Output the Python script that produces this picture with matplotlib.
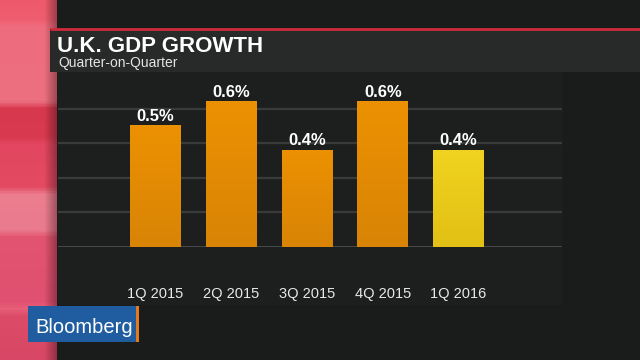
import matplotlib
matplotlib.use("Agg")
import matplotlib.pyplot as plt
import numpy as np
from matplotlib.patches import Rectangle
from matplotlib.colors import LinearSegmentedColormap

plt.rcParams['font.family'] = ['Liberation Sans', 'DejaVu Sans']

# ---- data ----
categories = ["1Q 2015", "2Q 2015", "3Q 2015", "4Q 2015", "1Q 2016"]
growth = [0.5, 0.6, 0.4, 0.6, 0.4]
value_labels = ["0.5%", "0.6%", "0.4%", "0.6%", "0.4%"]
title = "U.K. GDP GROWTH"
subtitle = "Quarter-on-Quarter"
brand = "Bloomberg"

# ---- styles ----
bar_top = ["#ec9102", "#ec9102", "#ec9102", "#ec9102", "#f0d320"]
bar_bot = ["#d98406", "#d98406", "#d98406", "#d98406", "#e2c015"]
grid_step = 0.1417

W, H = 640, 360
fig = plt.figure(figsize=(6.4, 3.6), dpi=100)
fig.patch.set_facecolor("#1a1b1b")

# background decoration axes in pixel coordinates
bg = fig.add_axes([0, 0, 1, 1])
bg.axis('off')
bg.add_patch(Rectangle((58, 72), 504, 233, color="#1d1e1e", zorder=0, lw=0))
pink_stops = [(0.0, "#ee5a6c"), (0.05, "#ee5e70"), (0.07, "#ee6c7e"), (0.28, "#ec7080"),
              (0.30, "#d8384e"), (0.38, "#d83a50"), (0.40, "#e24660"), (0.52, "#e44a62"),
              (0.54, "#ec7e90"), (0.64, "#ea7a8e"), (0.66, "#e25470"), (0.84, "#e05070"),
              (0.86, "#e8607a"), (0.88, "#dc4c68"), (1.0, "#d84866")]
pink = LinearSegmentedColormap.from_list("p", pink_stops)
bg.imshow(np.linspace(0, 1, 360).reshape(-1, 1), cmap=pink, extent=(0, 57, H, 0),
          aspect='auto', zorder=1)
shade = LinearSegmentedColormap.from_list("s", [(0, (0, 0, 0, 0)), (1, (0.1, 0, 0.02, 0.35))])
bg.imshow(np.linspace(0, 1, 20).reshape(1, -1), cmap=shade, extent=(44, 57, H, 0),
          aspect='auto', zorder=1.5)
bg.add_patch(Rectangle((50, 29), W - 50, 43, color="#282a2a", zorder=2, lw=0))
bg.plot([50, W], [29, 29], color="#cf2a3c", lw=2, zorder=3, solid_capstyle='butt')
bg.text(57, 52, title, fontsize=16, fontweight='bold', color='white', va='baseline', zorder=4)
bg.text(58, 66.5, subtitle, fontsize=10, color='#e4e4e4', va='baseline', zorder=4)
# logo
bg.add_patch(Rectangle((28, 306), 109, 36, color="#1f5ca0", zorder=4, lw=0))
bg.add_patch(Rectangle((136, 306), 3, 36, color="#e07a1e", zorder=5, lw=0))
bg.text(35, 333, brand, fontsize=14.5, color='white', va='baseline', zorder=6)
bg.set_xlim(0, W)
bg.set_ylim(H, 0)

# chart axes
base_px, top_px = 246.7, 72
ax = fig.add_axes([58 / W, (H - base_px) / H, 504 / W, (base_px - top_px) / H])
ax.set_facecolor('none')
x = np.arange(len(categories))
bars = ax.bar(x, growth, width=0.673, color=bar_top, zorder=3, lw=0)
grad = np.linspace(0, 1, 64).reshape(-1, 1)
for b, ct, cb in zip(bars, bar_top, bar_bot):
    cm = LinearSegmentedColormap.from_list("g", [ct, cb])
    im = ax.imshow(grad, cmap=cm, aspect='auto', zorder=3.5,
                   extent=(b.get_x(), b.get_x() + b.get_width(), 0, b.get_height()))
    im.set_clip_path(b)

ax.set_xlim(-1.287, 5.366)
ax.set_ylim(0, (base_px - top_px) / 242.8)
ax.set_yticks([grid_step * k for k in range(1, 5)])
ax.yaxis.grid(True, color="#393b3b", lw=1.6, zorder=1)
ax.set_axisbelow(True)
ax.axhline(0, color="#4c4e4e", lw=2, zorder=2)
ax.tick_params(axis='y', length=0, labelleft=False)
ax.set_xticks(x, categories)
ax.tick_params(axis='x', length=0, pad=29, labelsize=10.5, labelcolor='#e8e8e8')
for s in ax.spines.values():
    s.set_visible(False)
ax.bar_label(bars, labels=value_labels, padding=1, fontsize=12, fontweight='bold', color='white')

fig.savefig("out.png", dpi=100, facecolor=fig.get_facecolor())
